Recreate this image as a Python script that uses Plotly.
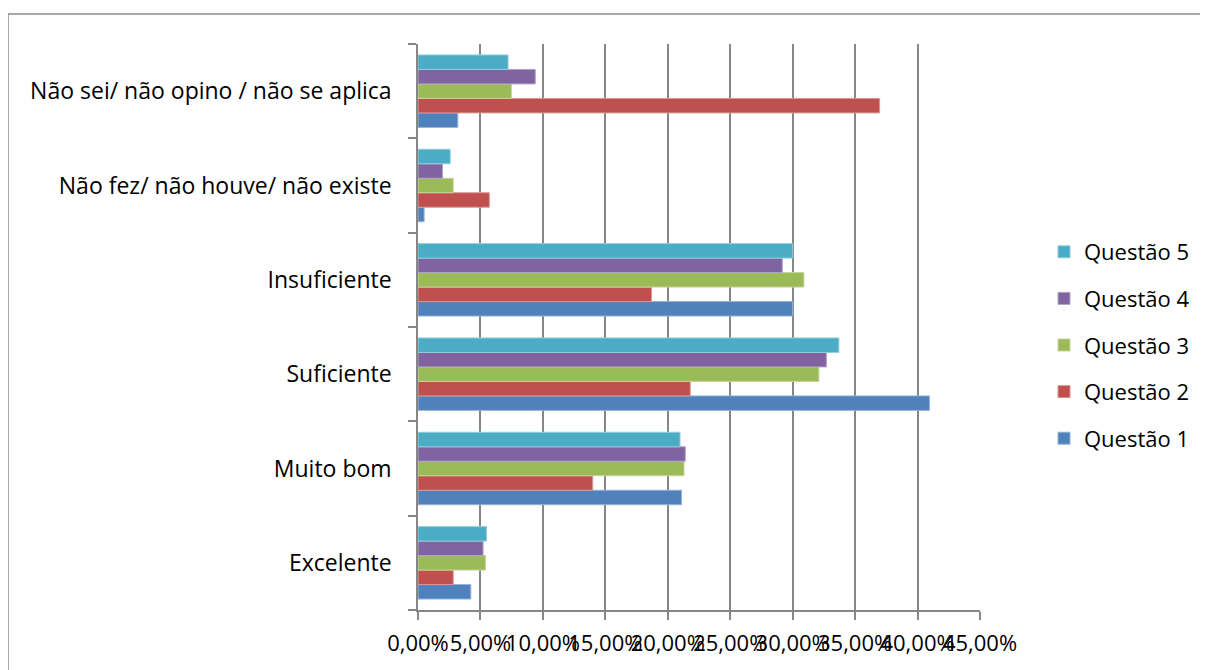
import plotly.graph_objects as go

categories = ["Excelente", "Muito bom", "Suficiente", "Insuficiente",
              "Não fez/ não houve/ não existe", "Não sei/ não opino / não se aplica"]

series_names = ["Questão 1", "Questão 2", "Questão 3", "Questão 4", "Questão 5"]

q1 = [4.23, 21.1, 40.95, 30.0, 0.49, 3.19]
q2 = [2.82, 13.99, 21.8, 18.7, 5.71, 36.96]
q3 = [5.40, 21.3, 32.1, 30.9, 2.82, 7.48]
q4 = [5.21, 21.4, 32.7, 29.17, 1.96, 9.39]
q5 = [5.49, 20.98, 33.7, 30.0, 2.58, 7.21]

series_values = [q1, q2, q3, q4, q5]
colors = ["#4F81BD", "#C0504D", "#9BBB59", "#8064A2", "#4BACC6"]
edge_colors = ["#95B3D7", "#D99694", "#C3D69B", "#B2A1C7", "#93CDDD"]

x_tick_vals = [0, 5, 10, 15, 20, 25, 30, 35, 40, 45]
x_tick_text = ["0,00%", "5,00%", "10,00%", "15,00%", "20,00%", "25,00%",
               "30,00%", "35,00%", "40,00%", "45,00%"]

FONT = "'Open Sans', Calibri, Carlito, sans-serif"
GRID = "#868686"

# page has an 8px body margin; figure is drawn at (8, 8)
W, H = 1200, 662
OFF = 8
L, T = 418 - OFF, 44 - OFF
PW, PH = 562, 566
R = W - L - PW
B = H - T - PH

fig = go.Figure()
n = len(series_names)
for i, (name, vals, c, ec) in enumerate(zip(series_names, series_values, colors, edge_colors)):
    fig.add_trace(go.Bar(
        y=categories, x=vals, name=name, orientation="h",
        marker=dict(color=c, line=dict(color=ec, width=1)),
        legendgroup=name, legendrank=n - i,
    ))

fig.update_layout(
    width=W, height=H,
    barmode="group", bargap=0.232, bargroupgap=0,
    plot_bgcolor="white", paper_bgcolor="white",
    margin=dict(l=L, r=R, t=T, b=B, autoexpand=False),
    font=dict(family=FONT, size=22, color="black"),
    legend=dict(
        traceorder="grouped", tracegroupgap=15,
        xref="container", yref="container",
        x=(1044 - OFF) / W, xanchor="left",
        y=1 - (345 - OFF) / H, yanchor="middle",
        font=dict(family=FONT, size=22, color="black"),
        bgcolor="rgba(0,0,0,0)",
    ),
    shapes=[dict(type="rect", xref="paper", yref="paper",
                 x0=(8 - 418) / PW, x1=(1240 - 418) / PW,
                 y0=(610 - 700) / PH, y1=(610 - 14) / PH,
                 line=dict(color="#8C8C8C", width=1.5), fillcolor="rgba(0,0,0,0)",
                 layer="below")],
)

fig.update_xaxes(
    range=[0, 45], tickvals=x_tick_vals, ticktext=x_tick_text,
    tickangle=0, showgrid=True, gridcolor=GRID, gridwidth=1.5,
    showline=True, linecolor=GRID, linewidth=1.5,
    ticks="outside", ticklen=8, tickcolor=GRID, tickwidth=1.5,
    zeroline=False, fixedrange=True, automargin=False,
    ticklabelstandoff=5,
    tickfont=dict(family=FONT, size=22, color="black"),
)
fig.update_yaxes(
    type="category", categoryorder="array", categoryarray=categories,
    tickson="boundaries", ticks="outside", ticklen=8, tickcolor=GRID, tickwidth=1.5,
    showline=True, linecolor=GRID, linewidth=1.5, showgrid=False,
    ticklabelstandoff=20, automargin=False,
    tickfont=dict(family=FONT, size=23, color="black"),
)

fig.write_html("out.html")
